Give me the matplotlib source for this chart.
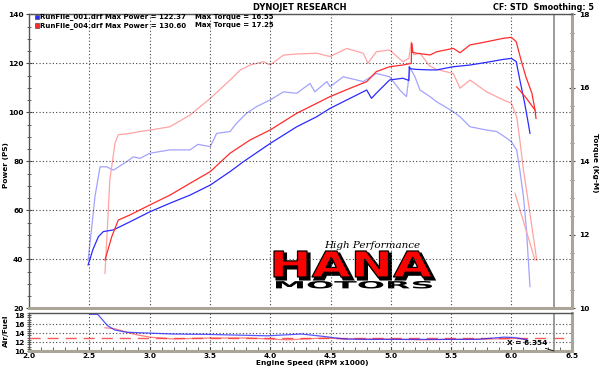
import matplotlib
matplotlib.use("Agg")
import matplotlib.pyplot as plt
from matplotlib.ticker import MultipleLocator, FormatStrFormatter
from matplotlib.textpath import TextPath
from matplotlib.font_manager import FontProperties
from matplotlib.patches import PathPatch, Rectangle
from matplotlib.transforms import Affine2D

# --- data (rpm x1000) ---
pwr1_rpm = [2.49, 2.53, 2.575, 2.616, 2.70, 2.837, 3.003, 3.169, 3.335, 3.503, 3.667, 3.777,
            4.0, 4.22, 4.386, 4.496, 4.662, 4.80, 4.84, 4.88, 4.99, 5.10, 5.15, 5.153, 5.16,
            5.215, 5.325, 5.38, 5.518, 5.657, 5.795, 5.933, 6.0, 6.04, 6.07, 6.11, 6.14, 6.154]
pwr1 = [37.7, 44.0, 49.2, 51.3, 52.0, 55.3, 59.4, 62.9, 66.2, 70.3, 75.8, 79.8,
        87.3, 94.1, 98.2, 101.6, 105.7, 109.1, 105.7, 107.8, 113.2, 113.9, 113.0, 118.6, 117.8,
        117.5, 117.3, 117.3, 118.6, 119.3, 120.4, 121.6, 122.0, 120.7, 113.2, 103.7, 95.5, 91.4]

pwr4_rpm = [2.63, 2.686, 2.74, 2.837, 3.003, 3.169, 3.335, 3.503, 3.667, 3.833, 4.0, 4.22,
            4.33, 4.496, 4.662, 4.80, 4.88, 4.99, 5.10, 5.17, 5.173, 5.18, 5.215, 5.325, 5.38,
            5.518, 5.574, 5.657, 5.795, 5.933, 6.0, 6.04, 6.08, 6.12, 6.17, 6.196, 6.204]
pwr4 = [39.7, 49.2, 56.0, 58.1, 62.2, 66.2, 71.0, 75.8, 83.3, 88.7, 92.8, 99.6,
        102.3, 106.4, 109.8, 112.5, 116.6, 118.6, 119.3, 120.0, 128.2, 124.5, 124.1, 123.4, 124.7,
        126.1, 124.3, 127.5, 128.8, 130.2, 130.6, 128.8, 121.3, 114.5, 107.8, 100.9, 97.5]
pwr4b_rpm = [6.044, 6.12, 6.196]
pwr4b = [110.4, 106.0, 100.9]

tq1_rpm = [2.49, 2.52, 2.547, 2.589, 2.644, 2.70, 2.81, 2.865, 2.92, 3.003, 3.169, 3.335,
           3.40, 3.503, 3.556, 3.667, 3.72, 3.805, 3.888, 4.0, 4.11, 4.22, 4.33, 4.37, 4.47,
           4.496, 4.606, 4.772, 4.88, 4.99, 5.075, 5.13, 5.16, 5.2, 5.242, 5.325, 5.38, 5.518,
           5.574, 5.657, 5.795, 5.878, 5.96, 6.0, 6.044, 6.07, 6.10, 6.125, 6.154]
tq1 = [11.31, 12.2, 13.04, 13.85, 13.85, 13.76, 13.99, 14.12, 14.08, 14.22, 14.31, 14.31,
       14.46, 14.40, 14.76, 14.81, 15.03, 15.31, 15.49, 15.67, 15.89, 15.85, 16.12, 15.89, 16.17,
       16.03, 16.30, 16.17, 16.39, 16.30, 15.94, 15.76, 16.55, 16.30, 15.94, 15.76, 15.62, 15.35,
       15.21, 14.94, 14.85, 14.81, 14.63, 14.53, 14.31, 13.76, 13.04, 12.13, 10.59]

tq4_rpm = [2.63, 2.65, 2.67, 2.713, 2.74, 2.837, 2.92, 3.003, 3.169, 3.335, 3.503, 3.667,
           3.75, 3.833, 3.943, 4.0, 4.11, 4.22, 4.386, 4.496, 4.634, 4.772, 4.81, 4.88, 4.99,
           5.10, 5.15, 5.17, 5.19, 5.242, 5.32, 5.38, 5.518, 5.574, 5.657, 5.795, 5.933, 6.0,
           6.044, 6.07, 6.10, 6.125, 6.17, 6.21]
tq4 = [10.95, 12.2, 13.49, 14.49, 14.72, 14.76, 14.81, 14.85, 14.94, 15.26, 15.71, 16.21,
       16.48, 16.62, 16.71, 16.62, 16.89, 16.92, 16.94, 16.85, 17.07, 16.94, 16.67, 16.98, 17.03,
       16.71, 16.8, 17.25, 16.9, 16.94, 16.6, 16.5, 16.39, 15.99, 16.21, 15.89, 15.67, 15.58,
       15.21, 14.58, 13.76, 13.22, 12.22, 11.31]
tq4b_rpm = [6.03, 6.196]
tq4b = [13.13, 11.31]

afr1_rpm = [2.506, 2.57, 2.65, 2.71, 2.81, 3.0, 3.19, 3.5, 3.98, 4.26, 4.43, 4.61, 4.77,
            5.08, 5.4, 5.72, 5.94, 6.03, 6.13]
afr1 = [18.2, 18.2, 15.7, 14.7, 14.2, 14.0, 13.8, 13.7, 13.4, 13.8, 13.3, 12.7, 12.6,
        12.6, 12.6, 12.6, 13.1, 13.0, 12.5]
afr4_rpm = [2.63, 2.71, 2.81, 2.9, 3.0, 3.19, 3.5, 3.82, 4.14, 4.45, 4.61, 4.93, 5.25,
            5.72, 5.88, 6.07, 6.13]
afr4 = [15.2, 15.0, 14.2, 13.6, 13.1, 12.7, 12.9, 12.9, 12.5, 12.9, 12.7, 12.7, 12.5,
        12.7, 12.7, 12.8, 12.5]
afr_target = 13.0
cursor_rpm = 6.354

legend_lines = ["RunFile_001.drf Max Power = 122.37", "RunFile_004.drf Max Power = 130.60"]
legend_torque = ["Max Torque = 16.55", "Max Torque = 17.25"]

BLUE, RED = "#2b2bff", "#ff2b2b"
LBLUE, LRED = "#a3a3ff", "#ffa3a3"
GRID = dict(color="#444444", linestyle=(0, (1, 2)), linewidth=0.8)
plt.rcParams["font.family"] = "DejaVu Sans"
plt.rcParams["font.weight"] = "bold"
FS = 5.3

W, H = 600, 368
fig = plt.figure(figsize=(6, 3.68), dpi=100)
x0, x1 = 29, 571.7
ax = fig.add_axes([x0 / W, 1 - 308.3 / H, (x1 - x0) / W, (308.3 - 14.3) / H])
ax2 = ax.twinx()
axa = fig.add_axes([x0 / W, 1 - 351 / H, (x1 - x0) / W, (351 - 313) / H])


def frame(a):
    for s in ("left", "top"):
        a.spines[s].set_color("#555555")
        a.spines[s].set_linewidth(1.0)
    for s in ("right", "bottom"):
        a.spines[s].set_color("#aaa596")
        a.spines[s].set_linewidth(2.2)


# main panel
ax.set_xlim(2.0, 6.5)
ax.set_ylim(20, 140)
ax.set_xticks([2.5, 3.0, 3.5, 4.0, 4.5, 5.0, 5.5, 6.0])
ax.tick_params(axis="x", length=0, labelbottom=False)
ax.yaxis.set_major_locator(MultipleLocator(20))
ax.yaxis.set_minor_locator(MultipleLocator(5))
ax.tick_params(axis="y", which="both", direction="inout", labelsize=FS, color="#444444", pad=1.5)
ax.tick_params(axis="y", which="major", length=5)
ax.tick_params(axis="y", which="minor", length=3)
ax.grid(True, **GRID)
ax.set_yticks([20, 40, 60, 80, 100, 120, 140])
frame(ax)

ax2.set_ylim(10, 18)
ax2.yaxis.set_major_locator(MultipleLocator(2))
ax2.yaxis.set_minor_locator(MultipleLocator(0.5))
ax2.tick_params(axis="y", which="both", direction="inout", labelsize=FS, color="#444444", pad=3)
ax2.tick_params(axis="y", which="major", length=5)
ax2.tick_params(axis="y", which="minor", length=3)
for s in ax2.spines.values():
    s.set_visible(False)

ax.axvline(cursor_rpm, color="#8a8a8a", lw=1.2, zorder=1)
ax2.plot(tq1_rpm, tq1, color=LBLUE, lw=0.9)
ax2.plot(tq4_rpm, tq4, color=LRED, lw=0.9)
ax2.plot(tq4b_rpm, tq4b, color=LRED, lw=0.9)
ax.set_zorder(ax2.get_zorder() + 1)
ax.patch.set_visible(False)
ax.plot(pwr1_rpm, pwr1, color=BLUE, lw=0.9)
ax.plot(pwr4_rpm, pwr4, color=RED, lw=0.9)
ax.plot(pwr4b_rpm, pwr4b, color=RED, lw=0.9)

# air/fuel panel
axa.set_xlim(2.0, 6.5)
axa.set_ylim(10, 18.5)
axa.xaxis.set_major_locator(MultipleLocator(0.5))
axa.xaxis.set_minor_locator(MultipleLocator(0.1))
axa.xaxis.set_major_formatter(FormatStrFormatter("%.1f"))
axa.yaxis.set_major_locator(MultipleLocator(2))
axa.yaxis.set_minor_locator(MultipleLocator(0.5))
axa.tick_params(axis="both", which="both", labelsize=FS, color="#444444", pad=1.5)
axa.tick_params(axis="x", which="both", direction="in", length=3)
axa.tick_params(axis="y", which="both", direction="inout", length=3)
axa.set_yticks([10, 12, 14, 16, 18])
for v in [2.5, 3.0, 3.5, 4.0, 4.5, 5.0, 5.5, 6.0]:
    axa.axvline(v, **GRID)
for v in [12, 14, 16]:
    axa.axhline(v, **GRID)
frame(axa)
axa.axhline(afr_target, color="#ff5a5a", lw=1.0, dashes=(8, 5))
axa.axvline(cursor_rpm, color="#8a8a8a", lw=1.2)
axa.plot(afr4_rpm, afr4, color=RED, lw=0.9, alpha=0.6)
axa.plot(afr1_rpm, afr1, color=BLUE, lw=0.9, alpha=0.8)
axa.annotate("X = 6.354", xy=(cursor_rpm, 10.0), xytext=(5.96, 11.9), fontsize=FS,
             va="center", arrowprops=dict(arrowstyle="-", lw=0.6, color="k", shrinkA=0, shrinkB=0))

# axis titles
fig.text(6 / W, 1 - 165 / H, "Power (PS)", fontsize=FS, rotation=90, ha="center", va="center")
fig.text(595 / W, 1 - 163 / H, "Torque (Kg-M)", fontsize=FS, rotation=-90, ha="center", va="center")
fig.text(6 / W, 1 - 331 / H, "Air/Fuel", fontsize=FS, rotation=90, ha="center", va="center")
fig.text(312 / W, 1 - 363.5 / H, "Engine Speed (RPM x1000)", fontsize=FS, ha="center", va="center")

# header texts
fig.text(300 / W, 1 - 7 / H, "DYNOJET RESEARCH", fontsize=6, ha="center", va="center")
fig.text(594 / W, 1 - 7 / H, "CF: STD  Smoothing: 5", fontsize=5.8, ha="right", va="center")
for i, (c, l1, l2) in enumerate(zip([BLUE, RED], legend_lines, legend_torque)):
    yy = 17 + 8.5 * i
    fig.add_artist(Rectangle((34.5 / W, 1 - (yy + 2.3) / H), 4.5 / W, 4.5 / H,
                             transform=fig.transFigure, fc=c, ec="#333333", lw=0.4))
    fig.text(40 / W, 1 - yy / H, l1, fontsize=5, va="center")
    fig.text(195 / W, 1 - yy / H, l2, fontsize=5, va="center")


# logo
def logo(s, box, fc, ec="none", lw=0, dx=0, dy=0):
    tp = TextPath((0, 0), s, size=10, prop=FontProperties(family="DejaVu Sans", weight="bold"))
    bb = tp.get_extents()
    bx0, by0, bx1, by1 = box
    tr = (Affine2D().translate(-bb.x0, -bb.y0)
          .scale((bx1 - bx0) / bb.width / W, (by1 - by0) / bb.height / H)
          .translate((bx0 + dx) / W, 1 - (by1 + dy) / H) + fig.transFigure)
    fig.add_artist(PathPatch(tp, transform=tr, fc=fc, ec=ec, lw=lw))


logo("HANA", (274, 251, 432, 277), "black", "black", 1.5, dx=2.5, dy=2.5)
logo("HANA", (274, 251, 432, 277), "#ff0000", "black", 0.9)
logo("MOTORS", (276, 281, 432, 288.5), "black")
fig.text(372 / W, 1 - 246 / H, "High Performance", fontsize=7.5, fontstyle="italic",
         family="DejaVu Serif", fontweight="normal", ha="center", va="center")

fig.savefig("out.png", dpi=100, facecolor="white")
